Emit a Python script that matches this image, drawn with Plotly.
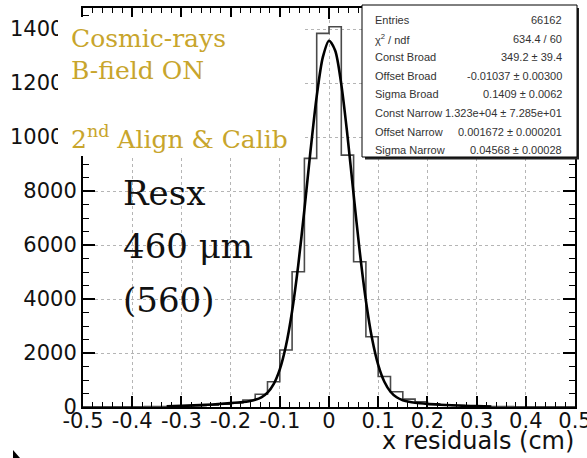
import plotly.graph_objects as go

# ---------------- data ----------------
bin_low, bin_width, n_bins = -0.5, 0.025, 40
counts = [5, 5, 8, 10, 12, 15, 20, 28, 38, 50,
          70, 100, 150, 260, 470, 937, 2110, 5010, 9210, 13840,
          14085, 9330, 5380, 2600, 1130, 567, 290, 196, 120, 80,
          55, 38, 26, 18, 13, 10, 8, 6, 5, 4]

fit_x = [-0.33, -0.3, -0.275, -0.25, -0.225, -0.2, -0.175, -0.1625, -0.15, -0.1375,
         -0.125, -0.1125, -0.1, -0.0875, -0.075, -0.0625, -0.05, -0.0375, -0.025, -0.0125,
         0.0, 0.0125, 0.025, 0.0375, 0.05, 0.0625, 0.075, 0.0875, 0.1, 0.1125,
         0.125, 0.1375, 0.15, 0.1625, 0.175, 0.2, 0.225, 0.25, 0.275, 0.3, 0.33]
fit_y = [26, 42, 60, 82, 109, 142, 184, 216, 267, 360,
         534, 850, 1396, 2270, 3548, 5258, 7313, 9502, 11504, 12958,
         13569, 13207, 11950, 10056, 7876, 5756, 3938, 2538, 1562, 936,
         566, 360, 251, 191, 157, 115, 86, 63, 45, 31, 20]

x_tickvals = [-0.5, -0.4, -0.3, -0.2, -0.1, 0.0, 0.1, 0.2, 0.3, 0.4, 0.5]
x_ticktext = ["-0.5", "-0.4", "-0.3", "-0.2", "-0.1", "0", "0.1", "0.2", "0.3", "0.4", "0.5"]
y_tickvals = [0, 2000, 4000, 6000, 8000, 10000, 12000, 14000]
y_ticktext = ["0", "2000", "4000", "6000", "8000", "10000", "12000", "14000"]

stats_names = ["Entries", "χ<sup>2</sup> / ndf", "Const Broad", "Offset Broad", "Sigma Broad",
               "Const Narrow", "Offset Narrow", "Sigma Narrow"]
stats_values = ["66162", "634.4 / 60", "349.2 ± 39.4", "-0.01037 ± 0.00300", "0.1409 ± 0.0062",
                "1.323e+04 ± 7.285e+01", "0.001672 ± 0.000201", "0.04568 ± 0.00028"]

gold_lines = ["Cosmic-rays", "B-field ON", "2<sup>nd</sup> Align & Calib"]
res_lines = ["Resx", "460 μm", "(560)"]
x_title = "x residuals (cm)"

# ---------------- layout helpers ----------------
W, H = 587, 458
L, R, T, B = 83, 12, 8, 51


def px(x):
    return (x - L) / (W - L - R)


def py(y):
    return (H - B - y) / (H - T - B)


edges = [round(bin_low + bin_width * i, 5) for i in range(n_bins + 1)]

fig = go.Figure()
fig.add_trace(go.Scatter(
    x=edges, y=counts + [counts[-1]], mode="lines", line_shape="hv",
    line=dict(color="#4a4a4a", width=1.6), hoverinfo="skip", showlegend=False))
fig.add_trace(go.Scatter(
    x=fit_x, y=fit_y, mode="lines", line_shape="spline",
    line=dict(color="black", width=2.6, smoothing=0.8), hoverinfo="skip", showlegend=False))

axis_common = dict(
    showline=True, linecolor="black", linewidth=2, mirror="ticks",
    ticks="inside", tickcolor="black", tickwidth=1.5,
    showgrid=True, gridcolor="#b5b5b5", griddash="dot", gridwidth=1,
    zeroline=False, automargin=False,
    tickfont=dict(family="DejaVu Sans", size=21, color="#111111"),
)

fig.update_xaxes(
    range=[-0.5, 0.5], tickmode="array", tickvals=x_tickvals, ticktext=x_ticktext,
    ticklen=11, ticklabelstandoff=-6, ticklabeloverflow="allow",
    minor=dict(tick0=-0.5, dtick=0.02, ticks="inside", ticklen=5, tickwidth=1,
               tickcolor="black", showgrid=False),
    **axis_common)
fig.update_yaxes(
    range=[0, 14780], tickmode="array", tickvals=y_tickvals, ticktext=y_ticktext,
    ticklen=12, ticklabeloverflow="allow",
    minor=dict(tick0=0, dtick=500, ticks="inside", ticklen=6, tickwidth=1,
               tickcolor="black", showgrid=False),
    **axis_common)

shapes = []
# white box hiding the upper-left corner
shapes.append(dict(type="rect", xref="paper", yref="paper", layer="above",
                   x0=px(58), x1=px(303), y0=py(156), y1=py(17),
                   fillcolor="white", line=dict(width=0)))
# stats box with shadow
shapes.append(dict(type="rect", xref="paper", yref="paper", layer="above",
                   x0=px(365), x1=px(579), y0=py(159.5), y1=py(8),
                   fillcolor="#222222", line=dict(width=0)))
shapes.append(dict(type="rect", xref="paper", yref="paper", layer="above",
                   x0=px(362), x1=px(577), y0=py(157), y1=py(5),
                   fillcolor="white", line=dict(color="black", width=1)))
# small artifact at bottom-left
shapes.append(dict(type="path", xref="paper", yref="paper", layer="above",
                   path="M {a},{b} L {c},{d} L {e},{f} Z".format(
                       a=px(13), b=py(450), c=px(13), d=py(458), e=px(20), f=py(458)),
                   fillcolor="black", line=dict(width=0)))

annotations = []
gold = "#c8a52c"
for txt, yc in zip(gold_lines, [38, 70, 137]):
    annotations.append(dict(text=txt, xref="paper", yref="paper", x=px(69), y=py(yc),
                            xanchor="left", yanchor="middle", showarrow=False,
                            font=dict(family="DejaVu Serif", size=25, color=gold)))
for txt, yc in zip(res_lines, [193, 246, 300]):
    annotations.append(dict(text=txt, xref="paper", yref="paper", x=px(121), y=py(yc),
                            xanchor="left", yanchor="middle", showarrow=False,
                            font=dict(family="DejaVu Serif", size=34, color="#111111")))
for i, (nm, val) in enumerate(zip(stats_names, stats_values)):
    yc = 20 + i * 18.6
    annotations.append(dict(text=nm, xref="paper", yref="paper", x=px(373), y=py(yc),
                            xanchor="left", yanchor="middle", showarrow=False,
                            font=dict(family="Liberation Sans", size=11, color="#333333")))
    annotations.append(dict(text=val, xref="paper", yref="paper", x=px(564), y=py(yc),
                            xanchor="right", yanchor="middle", showarrow=False,
                            font=dict(family="Liberation Sans", size=11, color="#333333")))
annotations.append(dict(text=x_title, xref="paper", yref="paper", x=px(576), y=py(441),
                        xanchor="right", yanchor="middle", showarrow=False,
                        font=dict(family="DejaVu Sans", size=24, color="#111111")))

fig.update_layout(
    width=W, height=H, template="none",
    margin=dict(l=L, r=R, t=T, b=B, pad=0),
    paper_bgcolor="white", plot_bgcolor="white",
    shapes=shapes, annotations=annotations, showlegend=False,
)

fig.write_html("out.html")
